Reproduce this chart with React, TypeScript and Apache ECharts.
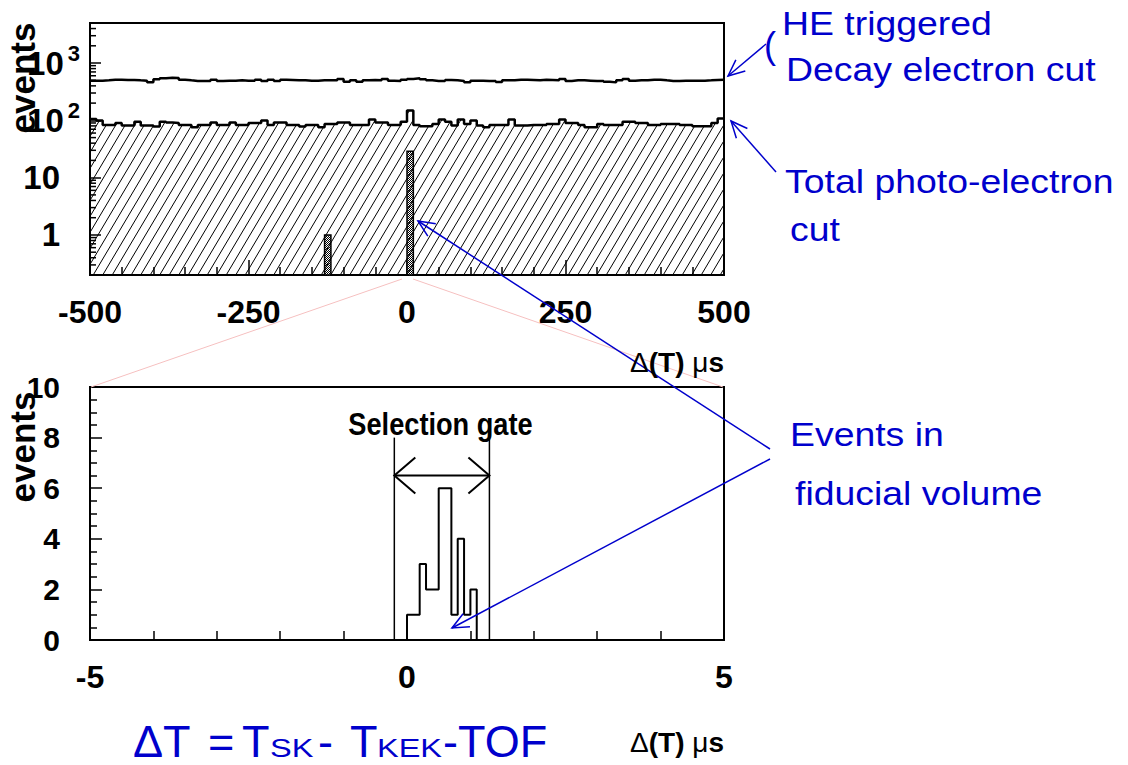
import React, { useEffect, useRef } from "react";
import * as echarts from "echarts";

// ---------- DATA ----------
// Top panel: 100 bins of 10 µs from -500 to 500
const topBinStart = -500;
const topBinWidth = 10;
const heTriggered = [
  493, 493, 499, 513, 513, 506, 506, 499, 493, 460,
  520, 542, 556, 548, 513, 499, 487, 487, 487, 513,
  487, 493, 493, 499, 493, 493, 513, 487, 513, 487,
  513, 506, 499, 499, 493, 493, 499, 499, 499, 528,
  473, 499, 473, 499, 506, 499, 528, 493, 487, 510,
  528, 542, 520, 499, 487, 487, 506, 499, 487, 460,
  493, 493, 487, 487, 467, 499, 499, 513, 513, 506,
  499, 513, 506, 499, 528, 487, 499, 499, 493, 487,
  487, 473, 460, 499, 528, 493, 499, 499, 513, 513,
  499, 487, 487, 493, 493, 493, 493, 499, 506, 513,
];
const photoElectronCut = [
  106, 99, 83, 83, 90, 81, 81, 95, 81, 81,
  78, 95, 92, 90, 83, 83, 76, 83, 83, 92,
  83, 83, 92, 83, 83, 90, 90, 99, 83, 92,
  92, 83, 83, 78, 83, 83, 76, 86, 86, 92,
  92, 83, 83, 83, 103, 92, 92, 83, 83, 95,
  148, 83, 79, 79, 86, 103, 95, 81, 103, 86,
  99, 81, 76, 83, 83, 83, 103, 81, 81, 83,
  83, 83, 86, 86, 103, 90, 90, 83, 76, 76,
  86, 83, 83, 83, 95, 95, 90, 90, 83, 83,
  86, 86, 86, 83, 83, 79, 79, 79, 90, 108,
];
// fiducial-volume events in the top panel: [binStart, binEnd, count]
const fiducialTop = [
  [-130, -120, 1],
  [0, 10, 29],
];
// Bottom panel: fiducial events, 0.1 µs bins starting at 0
const fidBinStart = 0.0;
const fidBinWidth = 0.1;
const fidCounts = [1, 1, 3, 2, 2, 6, 6, 1, 4, 1, 2];
// Selection gate edges (µs)
const gateEdges = [-0.2, 1.3];
// Axis settings
const topXTicks = { min: -500, max: 500, interval: 250 };
const botXTicks = { min: -5, max: 5, interval: 1 };
const topYRange = { min: 0.2, max: 5000 };
const botYTicks = { min: 0, max: 10, interval: 2 };

// ---------- helpers ----------
const SANS = '"Liberation Sans", Arial, Helvetica, sans-serif';
const BLUE = "#0000cc";

function makeHatch(): HTMLCanvasElement {
  const c = document.createElement("canvas");
  c.width = 19;
  c.height = 32;
  const ctx = c.getContext("2d")!;
  ctx.strokeStyle = "#000";
  ctx.lineWidth = 1;
  for (let k = -3; k <= 2; k++) {
    ctx.beginPath();
    ctx.moveTo(k * 9.5, 32);
    ctx.lineTo(k * 9.5 + 19, 0);
    ctx.stroke();
  }
  return c;
}
function makeCross(): HTMLCanvasElement {
  const c = document.createElement("canvas");
  c.width = 2;
  c.height = 2;
  const ctx = c.getContext("2d")!;
  ctx.fillStyle = "#fff";
  ctx.fillRect(0, 0, 2, 2);
  ctx.fillStyle = "#000";
  ctx.fillRect(0, 0, 1, 1);
  ctx.fillRect(1, 1, 1, 1);
  return c;
}
function arrowHead(x1: number, y1: number, x2: number, y2: number, len = 18, ang = 0.42) {
  const a = Math.atan2(y2 - y1, x2 - x1);
  return [
    [x2 - len * Math.cos(a - ang), y2 - len * Math.sin(a - ang)],
    [x2, y2],
    [x2 - len * Math.cos(a + ang), y2 - len * Math.sin(a + ang)],
  ];
}
function arrow(x1: number, y1: number, x2: number, y2: number) {
  return [
    { type: "line", shape: { x1, y1, x2, y2 }, style: { stroke: BLUE, lineWidth: 1.5 }, z: 50 },
    { type: "polyline", shape: { points: arrowHead(x1, y1, x2, y2) }, style: { stroke: BLUE, lineWidth: 1.5, fill: null }, z: 50 },
  ];
}
function txt(text: string, x: number, y: number, o: any = {}) {
  return {
    type: "text",
    x,
    y,
    scaleX: o.scaleX ?? 1,
    rotation: o.rotation ?? 0,
    z: 60,
    style: {
      text,
      fill: o.fill ?? BLUE,
      fontSize: o.fontSize ?? 34,
      fontWeight: o.fontWeight ?? "normal",
      fontFamily: o.fontFamily ?? SANS,
      align: o.align ?? "left",
      textAlign: o.align ?? "left",
      verticalAlign: "middle",
      textVerticalAlign: "middle",
      rich: o.rich,
    },
  };
}

export default function App() {
  const ref = useRef<HTMLDivElement>(null);
  useEffect(() => {
    if (!ref.current) return;
    const chart = echarts.init(ref.current, undefined, { renderer: "svg" });
    const hatch = { image: makeHatch(), repeat: "repeat" };
    const cross = { image: makeCross(), repeat: "repeat" };

    const stepData = (vals: number[]) => {
      const pts: number[][] = vals.map((v, i) => [topBinStart + i * topBinWidth, v]);
      pts.push([topBinStart + vals.length * topBinWidth, vals[vals.length - 1]]);
      return pts;
    };
    const botData: number[][] = [[botXTicks.min, 0]];
    fidCounts.forEach((c, i) => botData.push([fidBinStart + i * fidBinWidth, c]));
    botData.push([fidBinStart + fidCounts.length * fidBinWidth, 0]);
    botData.push([botXTicks.max, 0]);

    const logMinor: number[][] = [];
    for (let k = -1; k <= 3; k++) {
      for (let m = 2; m <= 9; m++) {
        const v = m * Math.pow(10, k);
        if (v > topYRange.min && v < topYRange.max) logMinor.push([topXTicks.min, v]);
      }
    }

    const axisLabelFont = { fontWeight: "bold", color: "#000", fontFamily: SANS };
    const richDeltaT = {
      r: { fontSize: 28, fontFamily: SANS, fill: "#000" },
      b: { fontSize: 28, fontFamily: SANS, fontWeight: "bold", fill: "#000" },
    };
    const axisLine = { onZero: false, lineStyle: { color: "#000", width: 2 } };

    const option: any = {
      animation: false,
      backgroundColor: "#fff",
      grid: [
        { left: 90, top: 23, width: 634, height: 252, show: true, borderColor: "#000", borderWidth: 2, backgroundColor: "transparent" },
        { left: 90, top: 387, width: 634, height: 253, show: true, borderColor: "#000", borderWidth: 2, backgroundColor: "transparent" },
      ],
      xAxis: [
        {
          type: "value", gridIndex: 0, min: topXTicks.min, max: topXTicks.max, interval: topXTicks.interval,
          axisLine,
          axisTick: { inside: true, length: 15, lineStyle: { color: "#000", width: 1.5 } },
          minorTick: { show: true, splitNumber: 5, length: 8, lineStyle: { color: "#000", width: 1.5 } },
          splitLine: { show: false },
          axisLabel: { margin: 21, fontSize: 32, ...axisLabelFont },
        },
        {
          type: "value", gridIndex: 1, min: botXTicks.min, max: botXTicks.max, interval: botXTicks.interval,
          axisLine,
          axisTick: { inside: true, length: 9, lineStyle: { color: "#000", width: 1.5 } },
          splitLine: { show: false },
          axisLabel: {
            margin: 21, fontSize: 32, ...axisLabelFont,
            formatter: (v: number) => (Math.abs(v % 5) < 1e-9 ? String(v) : ""),
          },
        },
      ],
      yAxis: [
        {
          type: "log", logBase: 10, gridIndex: 0, min: topYRange.min, max: topYRange.max,
          axisLine,
          axisTick: { inside: true, length: 11, lineStyle: { color: "#000", width: 1.5 } },
          splitLine: { show: false },
          axisLabel: {
            margin: 10, fontSize: 33, ...axisLabelFont,
            formatter: (v: number) => {
              const l = Math.log10(v);
              const r = Math.round(l);
              if (Math.abs(l - r) > 1e-6) return "";
              if (r === 0) return "{n|1}";
              if (r === 1) return "{n|10}";
              return "{b|10}{s|" + r + "}";
            },
            rich: {
              b: { fontSize: 33, fontWeight: "bold", fontFamily: SANS, color: "#000" },
              n: { fontSize: 33, fontWeight: "bold", fontFamily: SANS, color: "#000", padding: [0, 20, 0, 0] },
              s: { fontSize: 22, fontWeight: "bold", fontFamily: SANS, color: "#000", padding: [0, 0, 20, 4] },
            },
          },
        },
        {
          type: "value", gridIndex: 1, min: botYTicks.min, max: botYTicks.max, interval: botYTicks.interval,
          axisLine,
          axisTick: { inside: true, length: 12, lineStyle: { color: "#000", width: 1.5 } },
          minorTick: { show: true, splitNumber: 4, length: 7, lineStyle: { color: "#000", width: 1.5 } },
          splitLine: { show: false },
          axisLabel: { margin: 30, fontSize: 30, ...axisLabelFont },
        },
      ],
      series: [
        {
          name: "Total photo-electron cut", type: "line", xAxisIndex: 0, yAxisIndex: 0, step: "end",
          data: stepData(photoElectronCut), symbol: "none", silent: true,
          lineStyle: { color: "#000", width: 2.5 },
          areaStyle: { color: hatch, origin: "start", opacity: 1 },
        },
        {
          name: "HE triggered", type: "line", xAxisIndex: 0, yAxisIndex: 0, step: "end",
          data: stepData(heTriggered), symbol: "none", silent: true,
          lineStyle: { color: "#000", width: 2.5 },
        },
        {
          name: "Fiducial (top)", type: "custom", xAxisIndex: 0, yAxisIndex: 0, silent: true,
          data: fiducialTop, encode: { x: [0, 1], y: 2 },
          renderItem: (params: any, api: any) => {
            const p0 = api.coord([api.value(0), api.value(2)]);
            const p1 = api.coord([api.value(1), topYRange.min]);
            return {
              type: "rect",
              shape: { x: p0[0], y: p0[1], width: p1[0] - p0[0], height: p1[1] - p0[1] },
              style: { fill: cross, stroke: "#000", lineWidth: 1.5 },
            };
          },
        },
        {
          name: "log minor ticks", type: "custom", xAxisIndex: 0, yAxisIndex: 0, silent: true,
          data: logMinor, encode: { x: 0, y: 1 },
          renderItem: (params: any, api: any) => {
            const p = api.coord([api.value(0), api.value(1)]);
            return { type: "line", shape: { x1: p[0], y1: p[1], x2: p[0] + 6, y2: p[1] }, style: { stroke: "#000", lineWidth: 1.5 } };
          },
        },
        {
          name: "Fiducial (bottom)", type: "line", xAxisIndex: 1, yAxisIndex: 1, step: "end",
          data: botData, symbol: "none", silent: true,
          lineStyle: { color: "#000", width: 2 },
        },
        {
          name: "Selection gate", type: "custom", xAxisIndex: 1, yAxisIndex: 1, silent: true,
          data: [gateEdges], encode: { x: [0, 1] },
          renderItem: (params: any, api: any) => {
            const xs = api.value(0);
            const xe = api.value(1);
            const t0 = api.coord([xs, 8]);
            const b0 = api.coord([xs, 0]);
            const t1 = api.coord([xe, 8]);
            const b1 = api.coord([xe, 0]);
            const a0 = api.coord([xs, 6.5]);
            const a1 = api.coord([xe, 6.5]);
            const st = { stroke: "#000", lineWidth: 1.5, fill: null };
            return {
              type: "group",
              children: [
                { type: "line", shape: { x1: t0[0], y1: t0[1], x2: b0[0], y2: b0[1] }, style: st },
                { type: "line", shape: { x1: t1[0], y1: t1[1], x2: b1[0], y2: b1[1] }, style: st },
                { type: "line", shape: { x1: a0[0], y1: a0[1], x2: a1[0], y2: a1[1] }, style: { ...st, lineWidth: 2 } },
                { type: "polyline", shape: { points: [[a0[0] + 21, a0[1] - 18], [a0[0], a0[1]], [a0[0] + 21, a0[1] + 18]] }, style: { ...st, lineWidth: 2 } },
                { type: "polyline", shape: { points: [[a1[0] - 21, a1[1] - 18], [a1[0], a1[1]], [a1[0] - 21, a1[1] + 18]] }, style: { ...st, lineWidth: 2 } },
              ],
            };
          },
        },
      ],
      graphic: [
        { type: "line", shape: { x1: 402, y1: 279, x2: 91, y2: 387 }, style: { stroke: "#f6c0c0", lineWidth: 1 }, z: 1 },
        { type: "line", shape: { x1: 413, y1: 279, x2: 723, y2: 387 }, style: { stroke: "#f6c0c0", lineWidth: 1 }, z: 1 },
        txt("events", 22, 78, { fill: "#000", fontSize: 35, fontWeight: "bold", rotation: Math.PI / 2, align: "center" }),
        txt("events", 22, 447, { fill: "#000", fontSize: 35, fontWeight: "bold", rotation: Math.PI / 2, align: "center" }),
        txt("{r|Δ}{b|(T)}{r| μ}{b|s}", 677, 362, { rich: richDeltaT, align: "center", fill: "#000" }),
        txt("{r|Δ}{b|(T)}{r| μ}{b|s}", 677, 742, { rich: richDeltaT, align: "center", fill: "#000" }),
        txt("Selection gate", 440.5, 423.5, { fill: "#000", fontSize: 32, fontWeight: "bold", scaleX: 0.85, align: "center" }),
        // blue annotations
        txt("(", 764, 45, { fontSize: 36 }),
        txt("HE triggered", 782, 24, { scaleX: 1.1 }),
        txt("Decay electron cut", 786, 70, { scaleX: 1.1 }),
        txt("Total photo-electron", 785, 182, { scaleX: 1.1 }),
        txt("cut", 790, 230, { scaleX: 1.1 }),
        txt("Events in", 790, 435, { scaleX: 1.1 }),
        txt("fiducial volume", 795, 494, { scaleX: 1.1 }),
        ...arrow(766, 44, 728, 76),
        ...arrow(776, 172, 731, 121),
        ...arrow(770, 449, 418, 221),
        ...arrow(770, 459, 452, 628),
        // formula
        txt("ΔT", 133, 741, { fontSize: 45 }),
        txt("=", 208, 741, { fontSize: 45 }),
        txt("T", 242, 741, { fontSize: 45 }),
        txt("SK", 270, 748, { fontSize: 25, scaleX: 1.3 }),
        txt("-", 318, 741, { fontSize: 45 }),
        txt("T", 350, 741, { fontSize: 45 }),
        txt("KEK", 377, 748, { fontSize: 25, scaleX: 1.3 }),
        txt("-TOF", 443, 741, { fontSize: 45 }),
      ],
    };
    chart.setOption(option);
    return () => chart.dispose();
  }, []);
  return <div ref={ref} style={{ position: "fixed", left: 0, top: 0, width: 1128, height: 765 }} />;
}
